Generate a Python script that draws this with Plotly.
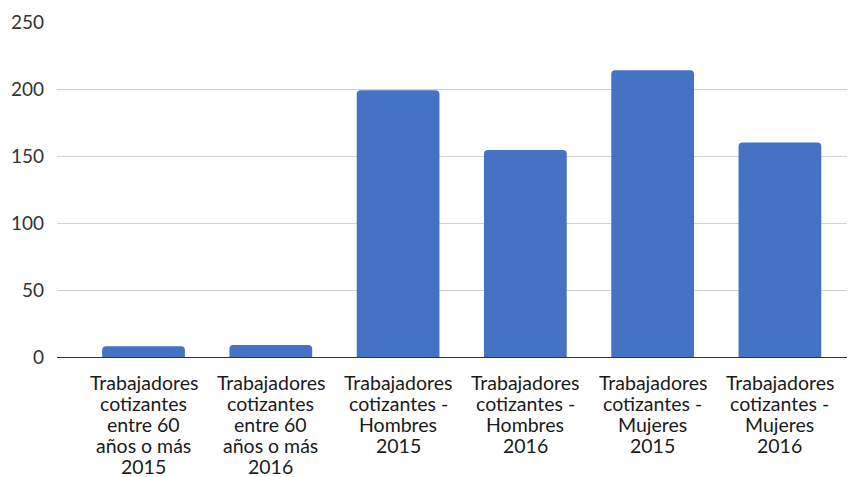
import plotly.graph_objects as go

categories = [
    "Trabajadores<br>cotizantes<br>entre 60<br>años o más<br>2015",
    "Trabajadores<br>cotizantes<br>entre 60<br>años o más<br>2016",
    "Trabajadores<br>cotizantes -<br>Hombres<br>2015",
    "Trabajadores<br>cotizantes -<br>Hombres<br>2016",
    "Trabajadores<br>cotizantes -<br>Mujeres<br>2015",
    "Trabajadores<br>cotizantes -<br>Mujeres<br>2016",
]
values = [8, 9, 199, 154.5, 214, 160]
y_ticks = [0, 50, 100, 150, 200, 250]

FONT = "Lato, Open Sans, sans-serif"

fig = go.Figure(go.Bar(
    x=categories, y=values,
    marker=dict(color="#4472C4", cornerradius=4, line=dict(width=0)),
))

# category labels drawn line by line for tight line spacing
for cat in categories:
    for j, line in enumerate(cat.split("<br>")):
        fig.add_annotation(
            x=cat, xref="x", y=0, yref="paper",
            text=line, showarrow=False,
            xanchor="center", yanchor="middle",
            yshift=-(25 + j * 21.2),
            font=dict(family=FONT, size=19.5, color="#1a1a1a"),
        )

# page body has an 8px margin, so the figure is offset by (8, 8)
fig.update_layout(
    width=847, height=469,
    margin=dict(l=49, r=0, t=14, b=120),
    plot_bgcolor="white", paper_bgcolor="white",
    bargap=0.35, showlegend=False,
    font=dict(family=FONT, size=19.5, color="#1a1a1a"),
)
fig.update_yaxes(range=[0, 250], tickvals=y_ticks, showgrid=True, gridcolor="#d0d0d0",
                 gridwidth=1, zeroline=False, ticks="", ticklabelstandoff=12,
                 automargin=False,
                 tickfont=dict(family=FONT, size=19, color="#333333"))
fig.update_xaxes(showline=True, linecolor="#333333", linewidth=1, ticks="",
                 showticklabels=False, automargin=False,
                 range=[-0.68, 5.59])
fig.write_html("out.html")
